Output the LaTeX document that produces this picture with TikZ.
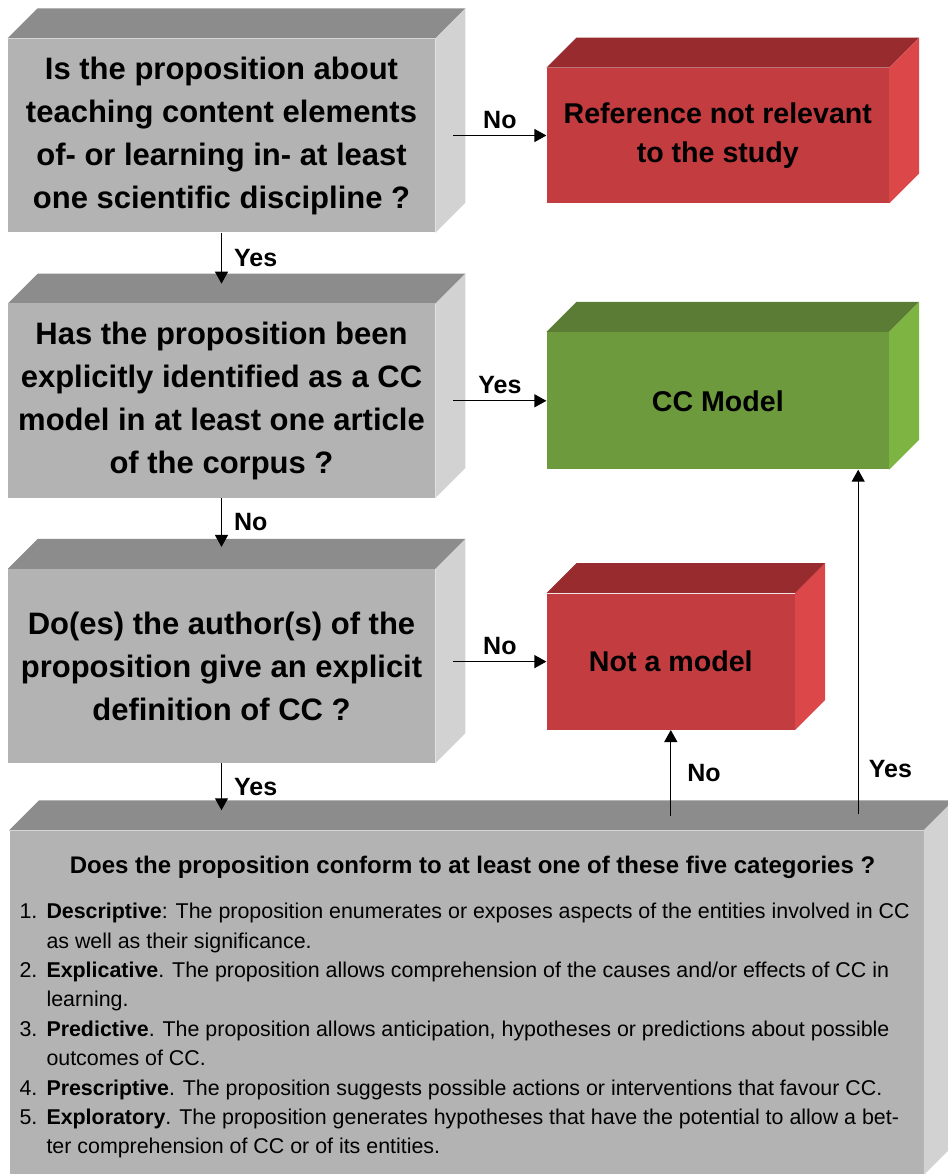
\documentclass[tikz,border=0pt]{standalone}
\usepackage{fontspec}
\setmainfont{Liberation Sans}
\usepackage{tikz}
\usetikzlibrary{positioning,arrows.meta,calc}
\definecolor{qgray}{RGB}{179,179,179}
\definecolor{qgraytop}{RGB}{140,140,140}
\definecolor{qgrayside}{RGB}{210,210,210}
\definecolor{nored}{RGB}{195,60,64}
\definecolor{noredtop}{RGB}{151,43,46}
\definecolor{noredside}{RGB}{220,72,74}
\definecolor{yesgreen}{RGB}{108,154,60}
\definecolor{yesgreentop}{RGB}{90,124,53}
\definecolor{yesgreenside}{RGB}{125,180,66}
\newcommand{\blockdepth}{15pt}
\newcommand{\blockfaces}[3]{%
  \fill[#2] (#1.north west) -- ++(\blockdepth,\blockdepth) -- ([shift={(\blockdepth,\blockdepth)}]#1.north east) -- (#1.north east) -- cycle;
  \fill[#3] (#1.north east) -- ++(\blockdepth,\blockdepth) -- ([shift={(\blockdepth,\blockdepth)}]#1.south east) -- (#1.south east) -- cycle;}
\newcommand{\itemno}[1]{\makebox[13.5pt][l]{#1}}
\tikzset{
  qbox/.style={fill=qgray,minimum width=213.5pt,minimum height=96.75pt,align=center,inner sep=4pt,font=\bfseries\fontsize{15.5}{21.5}\selectfont},
  redbox/.style={fill=nored,align=center,inner sep=4pt,font=\bfseries\fontsize{14.3}{19.5}\selectfont},
  greenbox/.style={fill=yesgreen,align=center,inner sep=4pt,font=\bfseries\fontsize{14.3}{19.5}\selectfont},
  catbox/.style={fill=qgray,minimum width=457pt,minimum height=172pt,inner sep=0pt},
  headtext/.style={font=\bfseries\fontsize{12}{14}\selectfont,inner sep=0pt},
  listtext/.style={align=left,inner sep=0pt,font=\fontsize{10.7}{14.7}\selectfont},
  flow/.style={-{Triangle[length=6pt,width=6.5pt]},line width=0.6pt,draw=black},
  lab/.style={font=\bfseries\fontsize{12.5}{15}\selectfont,inner sep=2pt},
}
\begin{document}
\begin{tikzpicture}[node distance=35.5pt and 55.5pt]
  \useasboundingbox (0,0) rectangle (474pt,-587pt);
  \node[qbox] (topic) at (110.75pt,-67.75pt) {Is the proposition about\\teaching content elements\\of- or learning in- at least\\one scientific discipline ?};
  \node[qbox,below=of topic] (explicit) {Has the proposition been\\explicitly identified as a CC\\model in at least one article\\of the corpus ?};
  \node[qbox,below=of explicit] (definition) {Do(es) the author(s) of the\\proposition give an explicit\\definition of CC ?};
  \node[catbox,below=33.5pt of definition.south west,anchor=north west,xshift=0.75pt] (categories) {};
  \node[redbox,minimum width=171pt,minimum height=67.5pt,right=of topic] (irrelevant) {Reference not relevant\\to the study};
  \node[greenbox,minimum width=171pt,minimum height=68.5pt,right=of explicit] (ccmodel) {CC Model};
  \node[redbox,minimum width=124pt,minimum height=68pt,right=of definition,yshift=2.25pt] (notmodel) {Not a model};
  \blockfaces{topic}{qgraytop}{qgrayside}
  \blockfaces{explicit}{qgraytop}{qgrayside}
  \blockfaces{definition}{qgraytop}{qgrayside}
  \blockfaces{categories}{qgraytop}{qgrayside}
  \blockfaces{irrelevant}{noredtop}{noredside}
  \blockfaces{ccmodel}{yesgreentop}{yesgreenside}
  \blockfaces{notmodel}{noredtop}{noredside}
  \node[headtext] (cathead) at ([xshift=3pt,yshift=-18.5pt]categories.north) {Does the proposition conform to at least one of these five categories ?};
  \node[listtext,anchor=north west] (catlist) at ([xshift=5pt,yshift=-36.3pt]categories.north west) {%
    \itemno{1.}\textbf{Descriptive}: The proposition enumerates or exposes aspects of the entities involved in CC\\
    \itemno{}as well as their significance.\\
    \itemno{2.}\textbf{Explicative}. The proposition allows comprehension of the causes and/or effects of CC in\\
    \itemno{}learning.\\
    \itemno{3.}\textbf{Predictive}. The proposition allows anticipation, hypotheses or predictions about possible\\
    \itemno{}outcomes of CC.\\
    \itemno{4.}\textbf{Prescriptive}. The proposition suggests possible actions or interventions that favour CC.\\
    \itemno{5.}\textbf{Exploratory}. The proposition generates hypotheses that have the potential to allow a bet-\\
    \itemno{}ter comprehension of CC or of its entities.};
  \draw[flow] ([xshift=9pt]topic.east) -- node[lab,above=1pt] {No} (irrelevant.west);
  \draw[flow] ([xshift=9pt]explicit.east) -- node[lab,above=1pt] {Yes} (ccmodel.west);
  \draw[flow] ([xshift=9pt]notmodel.west -| definition.east) -- node[lab,above=1pt] {No} (notmodel.west);
  \draw[flow] (topic.south) -- node[lab,right=4pt] {Yes} ([yshift=10pt]explicit.north);
  \draw[flow] (explicit.south) -- node[lab,right=4pt] {No} ([yshift=11pt]definition.north);
  \draw[flow] (definition.south) -- node[lab,right=4pt] {Yes} ([yshift=10pt]definition.south |- categories.north);
  \draw[flow] ([yshift=7pt]notmodel.south |- categories.north) -- node[lab,right=6pt] {No} (notmodel.south);
  \draw[flow] ([xshift=-15.5pt,yshift=8pt]ccmodel.south east |- categories.north) -- node[lab,right=3pt,pos=0.13] {Yes} ([xshift=-15.5pt]ccmodel.south east);
\end{tikzpicture}
\end{document}
